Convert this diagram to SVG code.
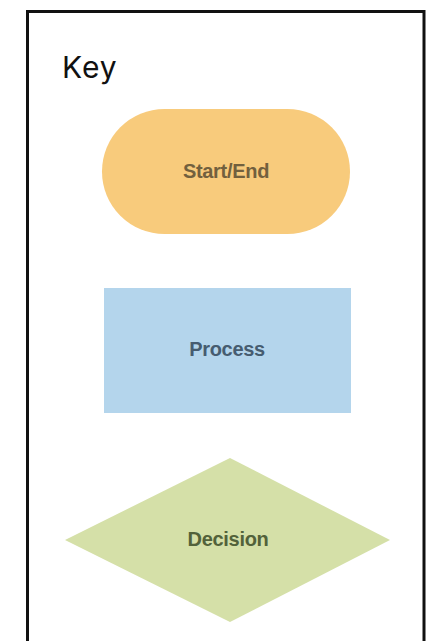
<svg xmlns="http://www.w3.org/2000/svg" width="434" height="641" viewBox="0 0 434 641">
  <style>
    .frame { fill: #ffffff; stroke: #111111; stroke-width: 3; }
    .title { font-family: Inter, "Open Sans", "Liberation Sans", sans-serif; font-size: 30px; letter-spacing: 1px; fill: #111111; }
    .label { font-family: "Liberation Sans", Arial, sans-serif; font-size: 20px; font-weight: bold; text-anchor: middle; letter-spacing: -0.3px; }
  </style>
  <rect width="434" height="641" fill="#ffffff"/>
  <!-- legend frame, open at the bottom edge of the canvas -->
  <rect class="frame" x="27.5" y="11.5" width="396.5" height="700"/>
  <text class="title" x="62" y="78">Key</text>

  <g id="start-end">
    <rect x="102" y="109" width="248" height="125" rx="62.5" ry="62.5" fill="#f8cb7c"/>
    <text class="label" x="226" y="178" fill="#72603e">Start/End</text>
  </g>

  <g id="process">
    <rect x="104" y="288" width="247" height="125" fill="#b4d5ec"/>
    <text class="label" x="227" y="356" fill="#465c70">Process</text>
  </g>

  <g id="decision">
    <polygon points="230,458 390,540 230,622 65,540" fill="#d5e0a8"/>
    <text class="label" x="228" y="546" fill="#52623a">Decision</text>
  </g>

  <g id="connectors"/>
</svg>
